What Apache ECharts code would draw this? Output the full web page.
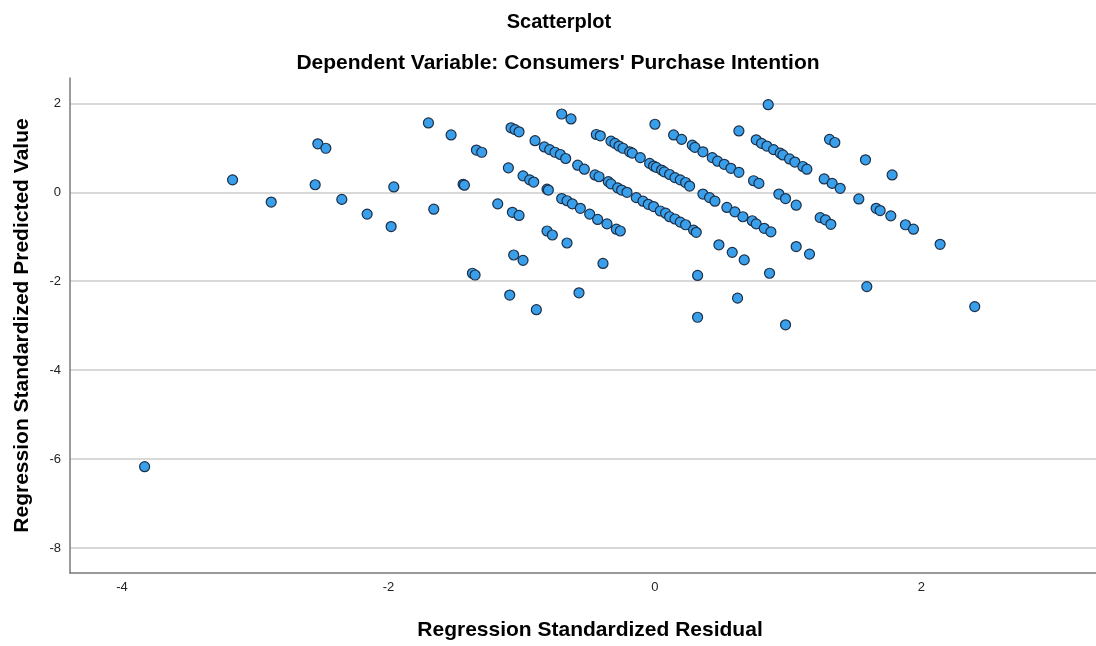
<!DOCTYPE html>
<html>
<head>
<meta charset="utf-8">
<script src="https://cdn.jsdelivr.net/npm/echarts@6/dist/echarts.min.js"></script>
<style>html,body{margin:0;padding:0;background:#fff;}#c{width:1096px;height:646px;}</style>
</head>
<body>
<div id="c"></div>
<script>
const titleText = "Scatterplot";
const subtitleText = "Dependent Variable: Consumers' Purchase Intention";
const xName = "Regression Standardized Residual";
const yName = "Regression Standardized Predicted Value";
const xTicks = [-4, -2, 0, 2];
const yTicks = [2, 0, -2, -4, -6, -8];

// [residual, predicted]
const pointsLeft = [
  [-3.83,-6.17],[-3.17,0.28],[-2.88,-0.22],[-2.53,1.09],[-2.47,0.99],[-2.55,0.17],[-2.35,-0.16],
  [-2.16,-0.49],[-1.96,0.12],[-1.98,-0.77],[-1.70,1.56],[-1.53,1.29],[-1.66,-0.38],[-1.34,0.95],
  [-1.30,0.90],[-1.44,0.18],[-1.43,0.16],[-1.37,-1.82],[-1.35,-1.86],[-1.18,-0.26],[-1.07,-0.45],
  [-1.02,-0.52],[-1.10,0.55],[-1.09,-2.31],[-1.06,-1.41],[-0.99,-1.53],[-0.99,0.37],[-0.94,0.28],
  [-0.91,0.23],[-0.81,0.07],[-0.80,0.05],[-1.08,1.45],[-1.05,1.41],[-1.02,1.36],[-0.90,1.16],
  [-0.89,-2.64],[-0.83,1.02],[-0.79,0.96],[-0.75,0.90],[-0.71,0.85],[-0.67,0.76],[-0.81,-0.87],
  [-0.77,-0.96],[-0.66,-1.14],[-0.70,1.76],[-0.63,1.65],[-0.58,0.61],[-0.53,0.52],[-0.57,-2.26],
  [-0.70,-0.14],[-0.66,-0.19],[-0.62,-0.26],[-0.56,-0.36],[-0.49,-0.49],[-0.43,-0.61],[-0.39,-1.60],
  [-0.36,-0.71],[-0.29,-0.83],[-0.26,-0.87]
];
const pointsChainA = [
  [-0.44,1.30],[-0.41,1.27],[-0.33,1.15],[-0.30,1.10],[-0.27,1.04],[-0.24,0.99],[-0.19,0.91],
  [-0.17,0.88],[-0.11,0.78],[-0.04,0.65],[-0.01,0.59],[0.01,0.56],[0.05,0.50],[0.07,0.46],
  [0.11,0.40],[0.15,0.33],[0.19,0.28],[0.23,0.22],[0.26,0.14]
];
const pointsChainB = [
  [-0.45,0.39],[-0.42,0.35],[-0.35,0.24],[-0.33,0.19],[-0.28,0.10],[-0.25,0.05],[-0.21,0.00],
  [-0.14,-0.12],[-0.09,-0.20],[-0.05,-0.27],[-0.01,-0.32],[0.04,-0.42],[0.08,-0.47],[0.11,-0.55],
  [0.15,-0.60],[0.19,-0.67],[0.23,-0.73],[0.29,-0.85],[0.31,-0.90]
];
const pointsRight = [
  [0.00,1.53],[0.14,1.29],[0.20,1.19],[0.28,1.06],[0.30,1.01],[0.36,0.91],[0.43,0.78],[0.47,0.70],
  [0.52,0.63],[0.57,0.54],[0.63,0.45],[0.63,1.38],[0.85,1.97],[0.74,0.26],[0.78,0.20],
  [0.76,1.18],[0.80,1.10],[0.84,1.04],[0.89,0.96],[0.94,0.88],[0.96,0.84],[1.01,0.75],[1.05,0.68],
  [1.11,0.58],[1.14,0.52],[1.31,1.19],[1.35,1.12],[1.27,0.30],[1.33,0.20],[1.39,0.09],
  [0.93,-0.04],[0.98,-0.14],[1.06,-0.29],[1.24,-0.57],[1.28,-0.62],[1.32,-0.72],
  [0.36,-0.04],[0.41,-0.12],[0.45,-0.20],[0.54,-0.34],[0.60,-0.44],[0.66,-0.55],[0.73,-0.64],
  [0.76,-0.71],[0.82,-0.81],[0.87,-0.89],[0.48,-1.18],[0.58,-1.35],[0.67,-1.52],[0.32,-1.87],
  [0.86,-1.82],[1.06,-1.22],[1.16,-1.39],[0.62,-2.38],[0.32,-2.81],[0.98,-2.98],
  [1.58,0.73],[1.78,0.39],[1.53,-0.15],[1.66,-0.36],[1.69,-0.41],[1.77,-0.53],[1.88,-0.73],
  [1.94,-0.83],[2.14,-1.17],[1.59,-2.12],[2.40,-2.57]
];

const allPoints = [].concat(pointsLeft, pointsChainA, pointsChainB, pointsRight);
const font = "'Liberation Sans', Arial, sans-serif";

const chart = echarts.init(document.getElementById('c'), null, {renderer: 'canvas'});
chart.setOption({
  animation: false,
  backgroundColor: '#ffffff',
  title: [
    {text: titleText, left: 554, top: 7, textAlign: 'center',
     textStyle: {fontFamily: font, fontSize: 20, fontWeight: 'bold', color: '#000'}},
    {text: subtitleText, left: 553, top: 48, textAlign: 'center',
     textStyle: {fontFamily: font, fontSize: 21, fontWeight: 'bold', color: '#000'}}
  ],
  grid: {left: 70, top: 78, right: 0, bottom: 73},
  xAxis: {
    type: 'value', min: -4.39, max: 3.31,
    name: xName, nameLocation: 'middle', nameGap: 47,
    nameTextStyle: {fontFamily: font, fontSize: 21, fontWeight: 'bold', color: '#000', padding: [0, 0, 0, 14]},
    axisLine: {show: true, onZero: false, lineStyle: {color: '#7a7a7a', width: 1.5}},
    axisTick: {show: false, customValues: xTicks},
    axisLabel: {customValues: xTicks, fontFamily: font, fontSize: 13, color: '#222', margin: 8},
    splitLine: {show: false}
  },
  yAxis: {
    type: 'value', min: -8.56, max: 2.57,
    name: yName, nameLocation: 'middle', nameGap: 37, nameRotate: 90,
    nameTextStyle: {fontFamily: font, fontSize: 21, fontWeight: 'bold', color: '#000'},
    axisLine: {show: true, onZero: false, lineStyle: {color: '#7a7a7a', width: 1.5}},
    axisTick: {show: false, customValues: yTicks},
    axisLabel: {customValues: yTicks, fontFamily: font, fontSize: 13, color: '#222', margin: 9},
    splitLine: {show: true, lineStyle: {color: '#cccccc', width: 1.5}}
  },
  series: [{
    type: 'scatter',
    data: allPoints,
    symbol: 'circle',
    symbolSize: 10,
    itemStyle: {color: '#3a9fea', borderColor: '#1c2f47', borderWidth: 1.2, opacity: 1}
  }]
});
</script>
</body>
</html>
